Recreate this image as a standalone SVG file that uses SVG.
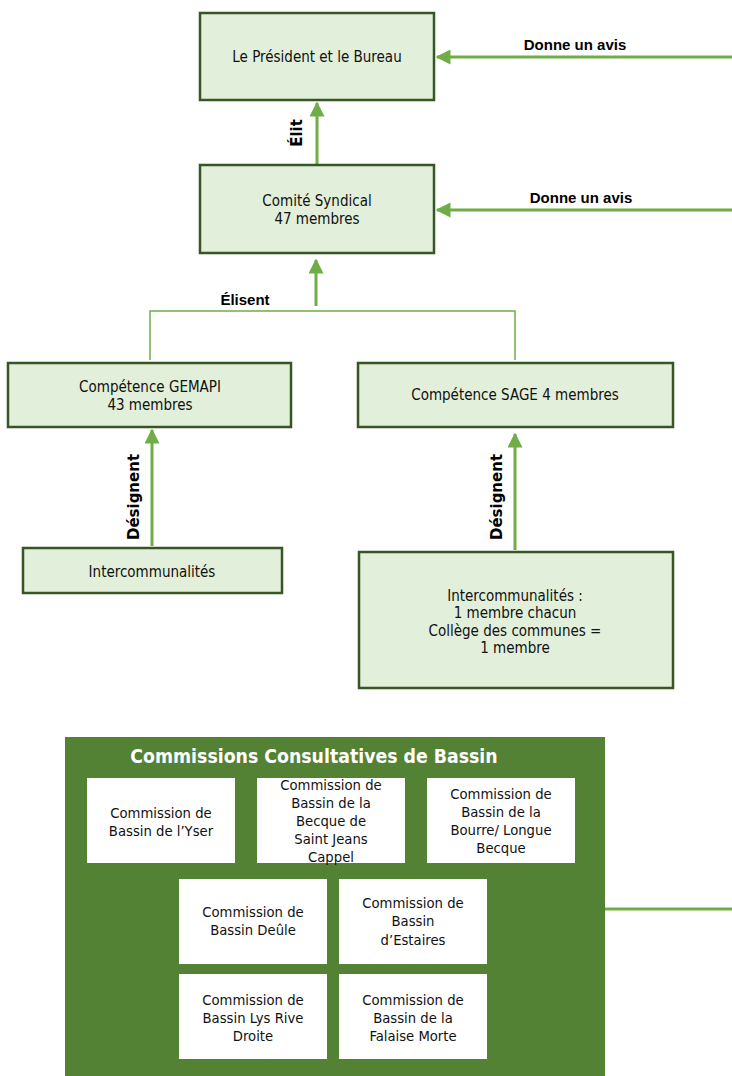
<svg xmlns="http://www.w3.org/2000/svg" width="732" height="1076" viewBox="0 0 732 1076">
<style>
.box{fill:#e2efda;stroke:#375623;stroke-width:2.5}
.t{font-family:"DejaVu Sans Condensed","DejaVu Sans",sans-serif;font-size:15px;fill:#111;text-anchor:middle}
.lbl{font-family:"Liberation Sans",Arial,sans-serif;font-weight:bold;font-size:15px;fill:#000;text-anchor:middle}
.vl{font-family:"DejaVu Sans","Liberation Sans",sans-serif;font-weight:bold;font-size:15px;fill:#000;text-anchor:middle}
.con{stroke:#70ad47;stroke-width:3;fill:none}
.thin{stroke:#70ad47;stroke-width:1.5;fill:none}
.wb{fill:#fff}
.wt{font-family:"DejaVu Sans Condensed","DejaVu Sans",sans-serif;font-size:14.7px;fill:#111;text-anchor:middle}
.title{font-family:"DejaVu Sans Condensed","DejaVu Sans",sans-serif;font-weight:bold;font-size:19.3px;fill:#fff;text-anchor:middle}
</style>
<defs>
<marker id="ah" markerWidth="5" markerHeight="5" refX="4.5" refY="2.5" orient="auto" markerUnits="strokeWidth">
<path d="M0,0 L5,2.5 L0,5 Z" fill="#70ad47"/>
</marker>
</defs>
<g id="connectors">
<line class="con" x1="732" y1="57" x2="437" y2="57" marker-end="url(#ah)"/>
<text class="lbl" x="575" y="50">Donne un avis</text>
<line class="con" x1="732" y1="210" x2="437" y2="210" marker-end="url(#ah)"/>
<text class="lbl" x="581" y="203">Donne un avis</text>
<line class="con" x1="317" y1="165" x2="317" y2="103" marker-end="url(#ah)"/>
<text class="vl" transform="translate(302,133) rotate(-90)">Élit</text>
<line class="con" x1="316" y1="306" x2="316" y2="260" marker-end="url(#ah)"/>
<text class="lbl" x="245" y="305">Élisent</text>
<polyline class="thin" points="150,360 150,311 515,311 515,360"/>
<line class="con" x1="152" y1="546" x2="152" y2="430" marker-end="url(#ah)"/>
<text class="vl" transform="translate(139,497) rotate(-90)">Désignent</text>
<line class="con" x1="515" y1="550" x2="515" y2="434" marker-end="url(#ah)"/>
<text class="vl" transform="translate(502,497) rotate(-90)">Désignent</text>
<line class="con" x1="604" y1="909" x2="732" y2="909"/>
</g>
<g id="president">
<rect class="box" x="200" y="13" width="234" height="87"/>
<text class="t" x="317" y="62">Le Président et le Bureau</text>
</g>
<g id="comite">
<rect class="box" x="200" y="165" width="234" height="88"/>
<text class="t" x="317" y="206">Comité Syndical</text>
<text class="t" x="317" y="224">47 membres</text>
</g>
<g id="gemapi">
<rect class="box" x="8" y="363" width="283" height="64"/>
<text class="t" x="150" y="392">Compétence GEMAPI</text>
<text class="t" x="150" y="410">43 membres</text>
</g>
<g id="sage">
<rect class="box" x="358" y="363" width="315" height="64"/>
<text class="t" x="515" y="400">Compétence SAGE 4 membres</text>
</g>
<g id="interco1">
<rect class="box" x="23" y="548" width="259" height="45"/>
<text class="t" x="152" y="577">Intercommunalités</text>
</g>
<g id="interco2">
<rect class="box" x="359" y="552" width="314" height="136"/>
<text class="t" x="515" y="601">Intercommunalités :</text>
<text class="t" x="515" y="618">1 membre chacun</text>
<text class="t" x="515" y="636">Collège des communes =</text>
<text class="t" x="515" y="653">1 membre</text>
</g>
<g id="commissions">
<rect x="65" y="737" width="540" height="345" fill="#548235"/>
<text class="title" x="314" y="763">Commissions Consultatives de Bassin</text>
</g>
<g id="c-yser">
<rect class="wb" x="87" y="778" width="148" height="85"/>
<text class="wt" x="161" y="818">Commission de</text>
<text class="wt" x="161" y="836">Bassin de l’Yser</text>
</g>
<g id="c-becque">
<rect class="wb" x="257" y="778" width="148" height="85"/>
<text class="wt" x="331" y="790">Commission de</text>
<text class="wt" x="331" y="808">Bassin de la</text>
<text class="wt" x="331" y="826">Becque de</text>
<text class="wt" x="331" y="844">Saint Jeans</text>
<text class="wt" x="331" y="862">Cappel</text>
</g>
<g id="c-bourre">
<rect class="wb" x="427" y="778" width="148" height="85"/>
<text class="wt" x="501" y="799">Commission de</text>
<text class="wt" x="501" y="817">Bassin de la</text>
<text class="wt" x="501" y="835">Bourre/ Longue</text>
<text class="wt" x="501" y="853">Becque</text>
</g>
<g id="c-deule">
<rect class="wb" x="179" y="879" width="148" height="85"/>
<text class="wt" x="253" y="917">Commission de</text>
<text class="wt" x="253" y="935">Bassin Deûle</text>
</g>
<g id="c-estaires">
<rect class="wb" x="339" y="879" width="148" height="85"/>
<text class="wt" x="413" y="908">Commission de</text>
<text class="wt" x="413" y="926">Bassin</text>
<text class="wt" x="413" y="945">d’Estaires</text>
</g>
<g id="c-lys">
<rect class="wb" x="179" y="974" width="148" height="85"/>
<text class="wt" x="253" y="1005">Commission de</text>
<text class="wt" x="253" y="1023">Bassin Lys Rive</text>
<text class="wt" x="253" y="1041">Droite</text>
</g>
<g id="c-falaise">
<rect class="wb" x="339" y="974" width="148" height="85"/>
<text class="wt" x="413" y="1005">Commission de</text>
<text class="wt" x="413" y="1023">Bassin de la</text>
<text class="wt" x="413" y="1041">Falaise Morte</text>
</g>
</svg>
